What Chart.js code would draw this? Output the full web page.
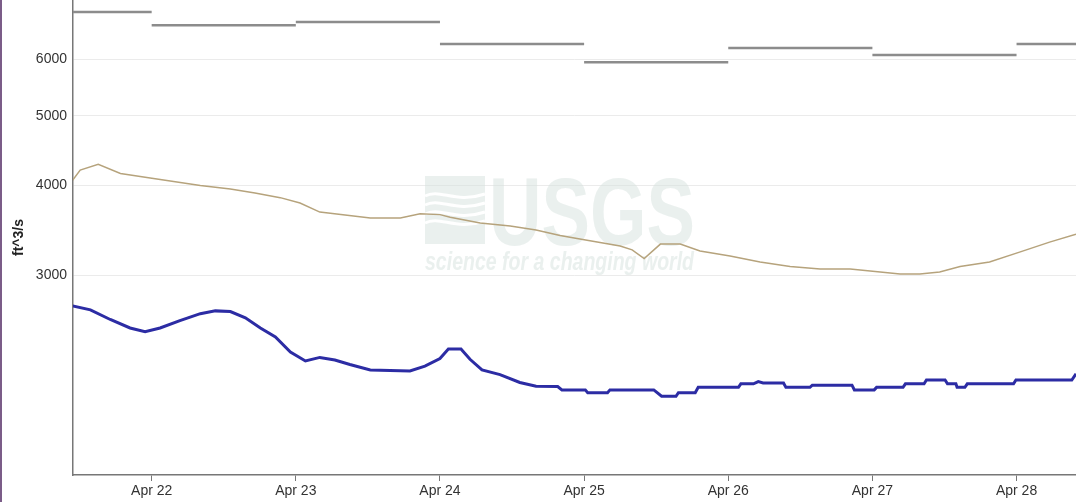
<!DOCTYPE html>
<html>
<head>
<meta charset="utf-8">
<title>Discharge, ft^3/s</title>
<script src="https://cdn.jsdelivr.net/npm/chart.js@4.4.1/dist/chart.umd.min.js"></script>
<style>
  html, body { margin: 0; padding: 0; background: #fff; }
  #wrap { position: relative; width: 1076px; height: 502px; }
  #edge { position: absolute; left: 0; top: 0; width: 2px; height: 502px; background: #7b5c88; }
</style>
</head>
<body>
<div id="wrap">
  <canvas id="flowChart" width="1076" height="502"></canvas>
  <div id="edge"></div>
</div>
<script>
// x values are hours counted from Apr 21 00:00
const dayTickHours = [24, 48, 72, 96, 120, 144, 168];
const dayTickLabels = ['Apr 22', 'Apr 23', 'Apr 24', 'Apr 25', 'Apr 26', 'Apr 27', 'Apr 28'];
const yTickValues = [3000, 4000, 5000, 6000];

// daily statistic (gray steps), one value per calendar day
const dailyStartHours = [0, 24, 48, 72, 96, 120, 144, 168];
const dailyValues = [6980, 6688, 6757, 6296, 5940, 6215, 6080, 6296];

// tan line
const tanHours = [10.75, 12.1, 15.1, 18.8, 23.75, 32.1, 37.1, 41.2, 45.4, 48.7, 52.0, 56.2, 60.4, 65.4, 68.7, 72.0,
  73.7, 78.7, 83.7, 88.0, 92.0, 95.3, 102.0, 104.0, 106.0, 108.7, 112.0, 115.3, 120.3, 125.3, 130.3, 135.3,
  140.3, 145.3, 148.6, 151.9, 155.2, 158.6, 163.5, 168.5, 173.5, 177.9];
const tanValues = [4056, 4201, 4280, 4156, 4095, 3998, 3954, 3904, 3846, 3780, 3672, 3638, 3603, 3603, 3652, 3642,
  3612, 3546, 3511, 3466, 3406, 3368, 3293, 3252, 3162, 3313, 3313, 3241, 3189, 3128, 3083, 3058,
  3058, 3030, 3011, 3011, 3030, 3083, 3128, 3229, 3334, 3420];

// blue line
const blueHours = [10.75, 13.8, 17.1, 20.4, 22.9, 25.4, 28.7, 32.1, 34.6, 37.1, 39.6, 42.1, 44.6, 47.1, 49.6, 52.0,
  54.5, 57.0, 60.4, 63.7, 67.0, 69.5, 72.0, 73.4, 75.5, 77.0, 79.0, 82.0, 85.3, 88.0,
  91.6, 92.3, 96.2, 96.6, 99.9, 100.3, 107.6, 108.9, 111.3, 111.7, 114.5, 115.0, 121.7, 122.1, 124.2, 125.0,
  125.8, 129.2, 129.6, 133.6, 134.0, 140.6, 141.0, 144.3, 144.7, 149.1, 149.5, 152.6, 153.0, 156.1, 156.5,
  157.9, 158.1, 159.4, 159.8, 167.5, 167.9, 177.2, 177.9];
const blueValues = [2718, 2683, 2601, 2531, 2502, 2531, 2592, 2650, 2674, 2668, 2615, 2531, 2459, 2343, 2277, 2303,
  2284, 2251, 2212, 2208, 2205, 2240, 2295, 2366, 2366, 2289, 2212, 2179, 2125, 2099,
  2097, 2075, 2075, 2056, 2056, 2075, 2075, 2033, 2033, 2056, 2056, 2092, 2092, 2116, 2116, 2131,
  2122, 2122, 2092, 2092, 2107, 2107, 2075, 2075, 2092, 2092, 2116, 2116, 2142, 2142, 2116,
  2116, 2092, 2092, 2116, 2116, 2142, 2142, 2185];

function toPoints(xs, ys) {
    return xs.map((x, i) => ({ x: x, y: ys[i] }));
}

function dailySteps() {
    const pts = [];
    dailyStartHours.forEach((h, i) => {
        pts.push({ x: h, y: dailyValues[i] });
        pts.push({ x: h + 24, y: dailyValues[i] });
        pts.push({ x: h + 24, y: null });
    });
    return pts;
}

// faint USGS watermark behind the lines
const watermark = {
    id: 'watermark',
    beforeDatasetsDraw(chart) {
        const ctx = chart.ctx;
        const col = 'rgba(214, 226, 222, 0.5)';
        ctx.save();
        // logo block with waves
        ctx.fillStyle = col;
        ctx.fillRect(425, 176, 60, 68);
        ctx.strokeStyle = '#fff';
        ctx.lineWidth = 3;
        for (let k = 0; k < 4; k++) {
            const y0 = 196 + k * 9;
            ctx.beginPath();
            ctx.moveTo(425, y0);
            ctx.bezierCurveTo(440, y0 - 8, 455, y0 + 8, 485, y0 - 2);
            ctx.stroke();
        }
        // USGS letters
        ctx.font = 'bold 96px "Liberation Sans", Arial, sans-serif';
        ctx.textBaseline = 'alphabetic';
        let w = ctx.measureText('USGS').width;
        ctx.translate(489, 245);
        ctx.scale(206 / w, 1);
        ctx.fillText('USGS', 0, 0);
        ctx.restore();
        ctx.save();
        ctx.fillStyle = col;
        ctx.font = 'italic bold 25px "Liberation Sans", Arial, sans-serif';
        w = ctx.measureText('science for a changing world').width;
        ctx.translate(425, 270);
        ctx.scale(269 / w, 1);
        ctx.fillText('science for a changing world', 0, 0);
        ctx.restore();
    }
};

function renderChart() {
    const ctx = document.getElementById('flowChart');
    if (!ctx) return;
    const tickFont = { family: '"Liberation Sans", Arial, sans-serif', size: 14 };
    new Chart(ctx, {
        type: 'line',
        data: {
            datasets: [{
                data: dailySteps(),
                borderColor: '#8c8c8c',
                borderWidth: 2.5,
                spanGaps: false
            }, {
                data: toPoints(tanHours, tanValues),
                borderColor: '#b6a37c',
                borderWidth: 1.5
            }, {
                data: toPoints(blueHours, blueValues),
                borderColor: '#2c2ca4',
                borderWidth: 3
            }]
        },
        options: {
            responsive: false,
            animation: false,
            layout: { padding: 0 },
            elements: { point: { radius: 0 }, line: { tension: 0 } },
            plugins: { legend: { display: false }, tooltip: { enabled: false } },
            scales: {
                x: {
                    type: 'linear',
                    min: 10.9,
                    max: 177.9,
                    afterBuildTicks: axis => { axis.ticks = dayTickHours.map(v => ({ value: v })); },
                    afterFit: axis => { axis.height = 27; axis.paddingLeft = 0; axis.paddingRight = 0; },
                    grid: { drawOnChartArea: false, drawTicks: true, tickLength: 6, tickColor: '#777' },
                    border: { color: '#777', width: 1.5 },
                    ticks: {
                        autoSkip: false,
                        maxRotation: 0,
                        padding: 2,
                        color: '#333',
                        font: tickFont,
                        callback: value => dayTickLabels[dayTickHours.indexOf(value)]
                    }
                },
                y: {
                    type: 'logarithmic',
                    min: 1579,
                    max: 7253,
                    afterBuildTicks: axis => { axis.ticks = yTickValues.map(v => ({ value: v })); },
                    afterFit: axis => { axis.width = 73; axis.paddingTop = 0; axis.paddingBottom = 0; },
                    grid: { color: '#ebebeb', drawTicks: false },
                    border: { color: '#777', width: 1.5 },
                    ticks: {
                        padding: 6,
                        color: '#333',
                        font: tickFont,
                        callback: value => String(value)
                    },
                    title: {
                        display: true,
                        text: 'ft^3/s',
                        color: '#222',
                        padding: { top: 11, bottom: 0 },
                        font: { family: '"Liberation Sans", Arial, sans-serif', size: 14, weight: 'bold' }
                    }
                }
            }
        },
        plugins: [watermark]
    });
}

document.addEventListener('DOMContentLoaded', function() {
    renderChart();
});
</script>
</body>
</html>
